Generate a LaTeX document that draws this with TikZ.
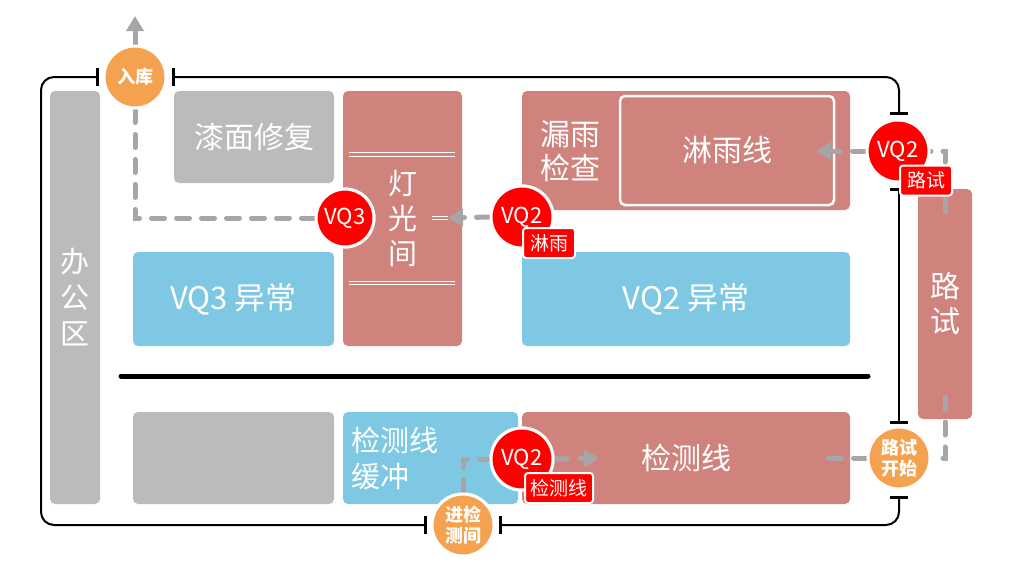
\documentclass[tikz,border=0pt]{standalone}
\usepackage{fontspec}
\setmainfont{Noto Sans CJK SC}
\usetikzlibrary{arrows.meta}
\definecolor{boxred}{HTML}{D0837D}
\definecolor{boxblue}{HTML}{7EC8E3}
\definecolor{boxgray}{HTML}{BBBBBB}
\definecolor{orng}{HTML}{F4A24F}
\definecolor{vqred}{HTML}{FF0000}
\definecolor{dgray}{HTML}{A6A6A6}
\newcommand{\fs}[1]{\fontsize{#1}{#1}\selectfont}
\tikzset{
  room/.style={rounded corners=5pt, inner sep=0pt, text=white, draw=none},
  redroom/.style={room, fill=boxred},
  blueroom/.style={room, fill=boxblue},
  grayroom/.style={room, fill=boxgray},
  roomtext/.style={text=white, inner sep=0pt, align=center},
  stopcircle/.style={circle, fill=orng, draw=white, line width=3pt, minimum size=62pt, inner sep=0pt, text=white, align=center, font=\bfseries\fontsize{18}{21}\selectfont},
  vqcircle/.style={circle, fill=vqred, draw=white, line width=3pt, minimum size=62pt, inner sep=0pt, text=white, font=\fs{22}},
  vqtag/.style={rounded corners=3pt, fill=vqred, draw=white, line width=2pt, inner sep=0pt, minimum height=30pt, text=white, font=\fs{19}},
  flow/.style={dgray, line width=5pt, line cap=round, dash pattern=on 13pt off 12pt},
  flowarrow/.style={flow, -{Triangle[length=15pt,width=17pt]}},
  border/.style={black, line width=2pt, rounded corners=13pt},
  tick/.style={black, line width=3pt},
}
\begin{document}
\begin{tikzpicture}[x=1pt,y=-1pt]
\useasboundingbox (0,0) rectangle (1024,568);
\fill[white] (0,0) rectangle (1024,568);

% outer border
\draw[border] (97,77) -- (41,77) -- (41,525) -- (425,525);
\draw[border] (500,525) -- (899,525) -- (899,497);
\draw[border] (899,422) -- (899,189);
\draw[border] (899,113) -- (899,77) -- (173,77);
\draw[tick] (97,68) -- (97,86);
\draw[tick] (173,68) -- (173,86);
\draw[tick] (425,516) -- (425,534);
\draw[tick] (500,516) -- (500,534);
\draw[tick] (890,113) -- (908,113);
\draw[tick] (890,189) -- (908,189);
\draw[tick] (890,422) -- (908,422);
\draw[tick] (890,497) -- (908,497);

% rooms
\node[grayroom, minimum width=50pt, minimum height=413pt, align=center, font=\fontsize{29}{36}\selectfont] (office) at (75,297.5) {办\\公\\区};
\node[grayroom, minimum width=160pt, minimum height=92pt, font=\fs{30}] (paint) at (254,137) {漆面修复};
\node[redroom, minimum width=119pt, minimum height=255pt, align=center, font=\fontsize{29}{35}\selectfont] (light) at (402.5,218.5) {灯\\光\\间};
\draw[white, line width=1pt] (349,152.5) -- (455,152.5) (349,156) -- (455,156);
\draw[white, line width=1pt] (349,281) -- (455,281) (349,284.5) -- (455,284.5);
\node[blueroom, minimum width=201pt, minimum height=94pt, font=\fs{31}] (vq3ab) at (233.5,299) {VQ3 异常};
\node[redroom, minimum width=328pt, minimum height=119pt] (leak) at (686,150.5) {};
\node[roomtext, font=\fontsize{30}{34}\selectfont] (leaktext) at (570,151) {漏雨\\检查};
\node[redroom, draw=white, line width=2.5pt, minimum width=214pt, minimum height=109pt, font=\fs{30}] (rainline) at (727,150.5) {淋雨线};
\node[blueroom, minimum width=328pt, minimum height=94pt, font=\fs{31}] (vq2ab) at (686,299) {VQ2 异常};
\node[redroom, minimum width=54pt, minimum height=230pt, align=center, font=\fontsize{30}{35}\selectfont] (road) at (945,304) {路\\试};
\node[grayroom, minimum width=201pt, minimum height=92pt] (spare) at (233.5,458) {};
\node[blueroom, minimum width=175pt, minimum height=92pt] (buffer) at (430.5,458) {};
\node[roomtext, anchor=west, align=left, font=\fontsize{29}{36}\selectfont] (buffertext) at (351,458) {检测线\\缓冲};
\node[redroom, minimum width=328pt, minimum height=92pt, font=\fs{30}] (detect) at (686,458) {检测线};

% divider
\coordinate (divL) at (121,376);
\coordinate (divR) at (868,376);
\draw[black, line width=5pt, line cap=round] (divL) -- (divR);

% stations
\node[stopcircle] (ruku) at (135,77) {入库};
\node[stopcircle] (jinjian) at (463,525) {进检\\测间};
\node[stopcircle] (lskc) at (899,458) {路试\\开始};
\node[vqcircle, minimum size=58pt] (vq3) at (345,218) {VQ3};
\node[vqcircle] (vq2a) at (522,217) {VQ2};
\node[vqcircle] (vq2b) at (898,151) {VQ2};
\node[vqcircle] (vq2c) at (522,459) {VQ2};

% flow connectors
\coordinate (exit) at (135,16);
\coordinate (lightin) at (448,218);
\coordinate (rainin) at (816,151);
\coordinate (roadtop) at (945,212);
\coordinate (roadbot) at (945,397);
\coordinate (detectin) at (817,458);
\coordinate (detectarr) at (599,458);
\draw[dgray, line width=5pt, -{Triangle[length=15pt,width=17pt]}] (ruku.north) -- (exit);
\draw[flow] (ruku.south) |- (vq3.west);
\draw[flowarrow] (vq2a.west) -- (lightin);
\draw[white, line width=1pt] (432,216.3) -- (448,216.3) (432,219.8) -- (448,219.8);
\draw[flowarrow] (vq2b.west) -- (rainin);
\draw[flow] (roadtop) |- (vq2b.east);
\draw[flow] (roadbot) |- (lskc.east);
\draw[flow] (lskc.west) -- (detectin);
\draw[flow] (jinjian.north) |- (vq2c.west);
\draw[flowarrow] (vq2c.east) -- (detectarr);

% redraw circles on top of connectors
\node[stopcircle] at (ruku) {入库};
\node[stopcircle] at (jinjian) {进检\\测间};
\node[stopcircle] at (lskc) {路试\\开始};
\node[vqcircle, minimum size=58pt] at (vq3) {VQ3};
\node[vqcircle] at (vq2a) {VQ2};
\node[vqcircle] at (vq2b) {VQ2};
\node[vqcircle] at (vq2c) {VQ2};

% tags
\node[vqtag, minimum width=52pt] (tag1) at (549,243) {淋雨};
\node[vqtag, minimum width=52pt] (tag2) at (926,180.5) {路试};
\node[vqtag, minimum width=68pt] (tag3) at (559,488) {检测线};
\end{tikzpicture}
\end{document}
